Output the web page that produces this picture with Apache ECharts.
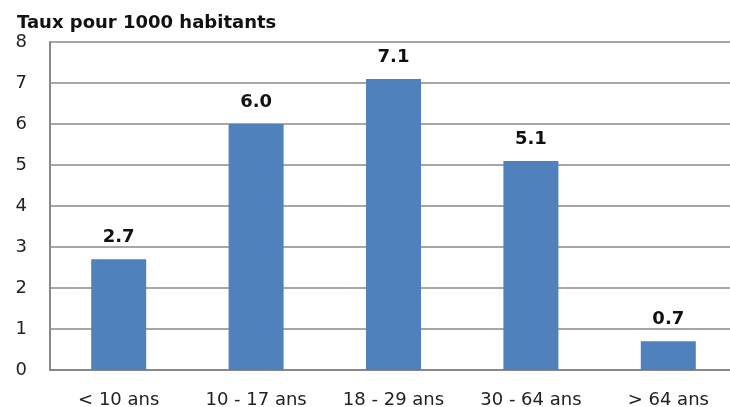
<!DOCTYPE html>
<html>
<head>
<meta charset="utf-8">
<script src="https://cdn.jsdelivr.net/npm/echarts@6/dist/echarts.min.js"></script>
<style>html,body{margin:0;padding:0;background:#fff;overflow:hidden;width:730px;height:407px;}#c{width:737px;height:407px;}</style>
</head>
<body>
<div id="c"></div>
<script>
const categories = ['< 10 ans', '10 - 17 ans', '18 - 29 ans', '30 - 64 ans', '> 64 ans'];
const values = [2.7, 6.0, 7.1, 5.1, 0.7];
const titleText = 'Taux pour 1000 habitants';

const FONT = 'DejaVu Sans';
const chart = echarts.init(document.getElementById('c'));
chart.setOption({
  animation: false,
  backgroundColor: '#fff',
  title: {
    text: titleText, left: 12, top: 9,
    textStyle: { fontFamily: FONT, fontWeight: 'bold', fontSize: 18, color: '#111' }
  },
  grid: { left: 50, right: 0, top: 42, bottom: 37, containLabel: false, outerBoundsMode: 'none' },
  xAxis: {
    type: 'category', data: categories,
    axisLine: { lineStyle: { color: '#888', width: 2 } },
    axisTick: { show: false },
    axisLabel: { fontFamily: FONT, fontSize: 18, color: '#222', margin: 21 }
  },
  yAxis: {
    type: 'value', min: 0, max: 8, interval: 1,
    axisLine: { show: true, lineStyle: { color: '#888', width: 2 } },
    axisTick: { show: false },
    splitLine: { lineStyle: { color: '#888', width: 1.6 } },
    axisLabel: { fontFamily: FONT, fontSize: 18, color: '#222', margin: 23 }
  },
  series: [{
    type: 'bar', data: values, barWidth: 55,
    itemStyle: { color: '#4F81BD' },
    label: {
      show: true, position: 'top', distance: 13,
      formatter: p => p.value.toFixed(1),
      fontFamily: FONT, fontWeight: 'bold', fontSize: 18, color: '#111'
    }
  }]
});
</script>
</body>
</html>
